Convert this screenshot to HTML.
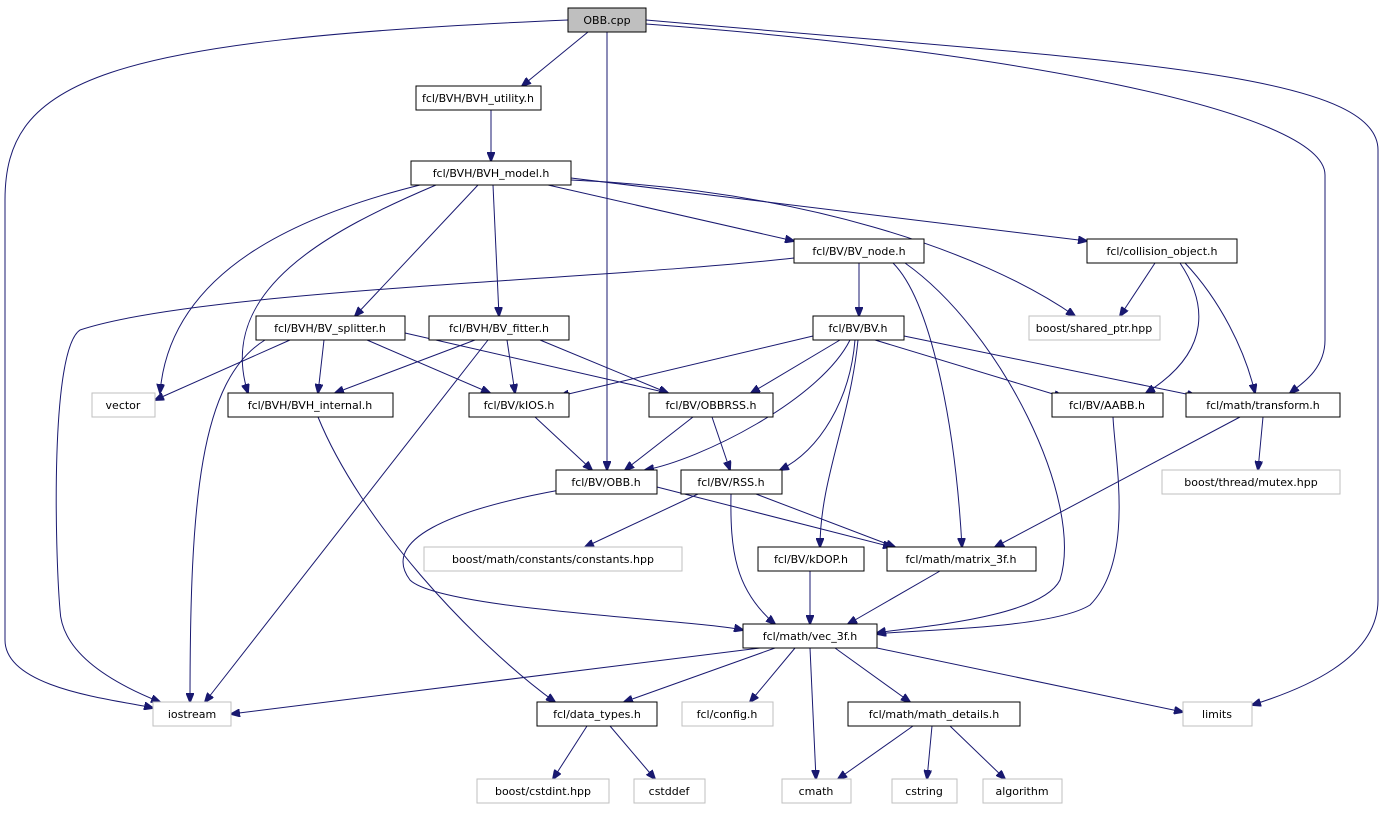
<!DOCTYPE html>
<html><head><meta charset="utf-8"><style>
html,body{margin:0;padding:0;background:#fff;width:1383px;height:813px;overflow:hidden}
svg{display:block}
text{font-family:"DejaVu Sans","Liberation Sans",sans-serif;font-size:11px;fill:#000;text-anchor:middle}
.n{fill:#fff;stroke:#000;stroke-width:1}
.g{fill:#fff;stroke:#bfbfbf;stroke-width:1}
.e{fill:none;stroke:#191970;stroke-width:1}
</style></head><body>
<svg width="1383" height="813" viewBox="0 0 1383 813">
<defs><marker id="a" markerWidth="10" markerHeight="8" refX="9" refY="4" orient="auto" markerUnits="userSpaceOnUse"><path d="M0,0 L10,4 L0,8 z" fill="#191970" stroke="#191970"/></marker></defs>
<g class="e" marker-end="url(#a)">
<path d="M568,20 C100,40 5,80 5,200 L5,640 C5,690 120,700 153,708"/>
<path d="M588,32 L522,86"/>
<path d="M607,32 L607,470"/>
<path d="M646,24 C1000,50 1325,110 1325,175 L1325,340 C1325,370 1300,385 1290,393"/>
<path d="M646,20 C1100,60 1378,70 1378,150 L1378,600 C1378,660 1300,690 1252,705"/>
<path d="M491,110 L491,161"/>
<path d="M420,185 C300,215 170,270 160,393"/>
<path d="M436,185 C330,230 215,290 248,393"/>
<path d="M478,185 L355,316"/>
<path d="M493,185 L499,316"/>
<path d="M548,185 L794,241"/>
<path d="M571,180 C800,190 980,250 1075,316"/>
<path d="M571,178 L1087,241"/>
<path d="M794,258 C600,280 200,290 80,330 C50,350 55,550 60,610 C62,660 130,690 160,702"/>
<path d="M859,263 L859,316"/>
<path d="M893,263 C930,300 955,420 962,547"/>
<path d="M905,263 C1000,330 1085,500 1060,580 C1040,620 900,628 877,633"/>
<path d="M1155,263 L1120,316"/>
<path d="M1180,263 C1205,300 1215,350 1146,393"/>
<path d="M1185,263 C1220,300 1245,350 1255,393"/>
<path d="M290,340 L155,400"/>
<path d="M324,340 L318,393"/>
<path d="M265,340 C200,380 190,500 190,702"/>
<path d="M367,340 L490,393"/>
<path d="M405,333 L668,393"/>
<path d="M475,340 L335,393"/>
<path d="M507,340 L515,393"/>
<path d="M540,340 L668,393"/>
<path d="M488,340 L205,702"/>
<path d="M813,336 L560,396"/>
<path d="M840,340 L751,393"/>
<path d="M850,340 C820,400 700,460 645,470"/>
<path d="M855,340 C850,400 820,450 780,470"/>
<path d="M858,340 C850,420 820,480 820,547"/>
<path d="M875,340 L1063,397"/>
<path d="M904,336 L1196,396"/>
<path d="M318,417 C360,520 470,640 555,702"/>
<path d="M535,417 L592,470"/>
<path d="M693,417 L625,470"/>
<path d="M712,417 L730,470"/>
<path d="M1113,417 C1115,460 1135,560 1090,605 C1050,630 900,630 877,634"/>
<path d="M1263,417 L1258,470"/>
<path d="M1240,417 L995,547"/>
<path d="M657,487 L892,547"/>
<path d="M560,490 C450,510 380,540 410,580 C440,610 700,620 743,630"/>
<path d="M698,494 L585,547"/>
<path d="M756,494 L895,547"/>
<path d="M731,494 C730,550 735,590 775,624"/>
<path d="M810,571 L810,624"/>
<path d="M940,571 L848,624"/>
<path d="M760,648 L231,714"/>
<path d="M775,648 L624,702"/>
<path d="M795,648 L750,702"/>
<path d="M835,648 L910,702"/>
<path d="M810,648 L816,779"/>
<path d="M877,648 L1183,712"/>
<path d="M587,726 L553,779"/>
<path d="M610,726 L655,779"/>
<path d="M913,726 L838,779"/>
<path d="M932,726 L927,779"/>
<path d="M950,726 L1005,779"/>
</g>
<rect x="568" y="8" width="78" height="24" fill="#bfbfbf" stroke="#000"/><text x="607" y="24">OBB.cpp</text>
<rect class="n" x="416" y="86" width="125" height="24"/><text x="478" y="102">fcl/BVH/BVH_utility.h</text>
<rect class="n" x="411" y="161" width="160" height="24"/><text x="491" y="177">fcl/BVH/BVH_model.h</text>
<rect class="n" x="794" y="239" width="130" height="24"/><text x="859" y="255">fcl/BV/BV_node.h</text>
<rect class="n" x="1087" y="239" width="150" height="24"/><text x="1162" y="255">fcl/collision_object.h</text>
<rect class="g" x="1029" y="316" width="131" height="24"/><text x="1094" y="332">boost/shared_ptr.hpp</text>
<rect class="n" x="256" y="316" width="149" height="24"/><text x="330" y="332">fcl/BVH/BV_splitter.h</text>
<rect class="n" x="429" y="316" width="140" height="24"/><text x="499" y="332">fcl/BVH/BV_fitter.h</text>
<rect class="n" x="813" y="316" width="91" height="24"/><text x="858" y="332">fcl/BV/BV.h</text>
<rect class="g" x="92" y="393" width="63" height="24"/><text x="123" y="409">vector</text>
<rect class="n" x="228" y="393" width="165" height="24"/><text x="310" y="409">fcl/BVH/BVH_internal.h</text>
<rect class="n" x="469" y="393" width="100" height="24"/><text x="519" y="409">fcl/BV/kIOS.h</text>
<rect class="n" x="649" y="393" width="124" height="24"/><text x="711" y="409">fcl/BV/OBBRSS.h</text>
<rect class="n" x="1052" y="393" width="111" height="24"/><text x="1107" y="409">fcl/BV/AABB.h</text>
<rect class="n" x="1186" y="393" width="154" height="24"/><text x="1263" y="409">fcl/math/transform.h</text>
<rect class="n" x="556" y="470" width="101" height="24"/><text x="606" y="486">fcl/BV/OBB.h</text>
<rect class="n" x="681" y="470" width="101" height="24"/><text x="731" y="486">fcl/BV/RSS.h</text>
<rect class="g" x="1162" y="470" width="178" height="24"/><text x="1251" y="486">boost/thread/mutex.hpp</text>
<rect class="g" x="424" y="547" width="258" height="24"/><text x="553" y="563">boost/math/constants/constants.hpp</text>
<rect class="n" x="758" y="547" width="106" height="24"/><text x="811" y="563">fcl/BV/kDOP.h</text>
<rect class="n" x="887" y="547" width="149" height="24"/><text x="961" y="563">fcl/math/matrix_3f.h</text>
<rect class="n" x="743" y="624" width="134" height="24"/><text x="810" y="640">fcl/math/vec_3f.h</text>
<rect class="g" x="153" y="702" width="78" height="24"/><text x="192" y="718">iostream</text>
<rect class="n" x="537" y="702" width="120" height="24"/><text x="597" y="718">fcl/data_types.h</text>
<rect class="g" x="682" y="702" width="91" height="24"/><text x="727" y="718">fcl/config.h</text>
<rect class="n" x="848" y="702" width="172" height="24"/><text x="934" y="718">fcl/math/math_details.h</text>
<rect class="g" x="1183" y="702" width="69" height="24"/><text x="1217" y="718">limits</text>
<rect class="g" x="477" y="779" width="132" height="24"/><text x="543" y="795">boost/cstdint.hpp</text>
<rect class="g" x="634" y="779" width="71" height="24"/><text x="669" y="795">cstddef</text>
<rect class="g" x="782" y="779" width="69" height="24"/><text x="816" y="795">cmath</text>
<rect class="g" x="892" y="779" width="65" height="24"/><text x="924" y="795">cstring</text>
<rect class="g" x="983" y="779" width="79" height="24"/><text x="1022" y="795">algorithm</text>
</svg>
</body></html>
